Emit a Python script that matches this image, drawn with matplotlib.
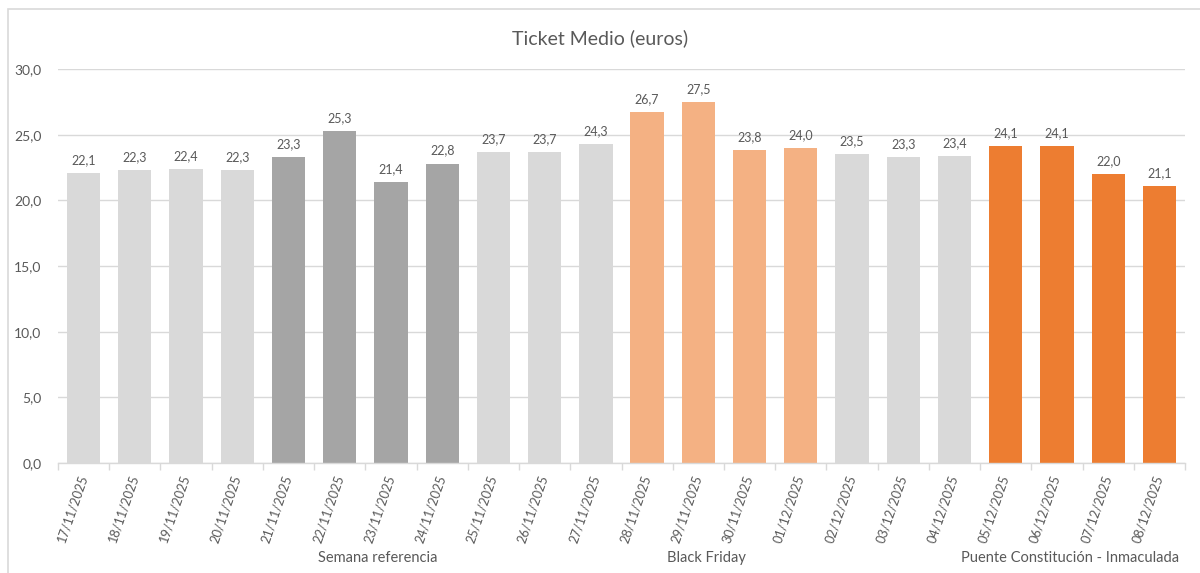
import matplotlib
matplotlib.use('Agg')
import matplotlib.pyplot as plt
import matplotlib.patches as mpatches
from matplotlib.ticker import FuncFormatter

plt.rcParams['font.family'] = ['Lato', 'DejaVu Sans']

dates = ['17/11/2025', '18/11/2025', '19/11/2025', '20/11/2025', '21/11/2025',
         '22/11/2025', '23/11/2025', '24/11/2025', '25/11/2025', '26/11/2025',
         '27/11/2025', '28/11/2025', '29/11/2025', '30/11/2025', '01/12/2025',
         '02/12/2025', '03/12/2025', '04/12/2025', '05/12/2025', '06/12/2025',
         '07/12/2025', '08/12/2025']
ticket = [22.1, 22.3, 22.4, 22.3, 23.3, 25.3, 21.4, 22.8, 23.7, 23.7, 24.3,
          26.7, 27.5, 23.8, 24.0, 23.5, 23.3, 23.4, 24.1, 24.1, 22.0, 21.1]
# grupo de cada día: 0 normal, 1 semana referencia, 2 black friday, 3 puente
grupo = [0, 0, 0, 0, 1, 1, 1, 1, 0, 0, 0, 2, 2, 2, 2, 0, 0, 0, 3, 3, 3, 3]
grupo_labels = ['Semana referencia', 'Black Friday', 'Puente Constitución - Inmaculada']

colores = {0: '#D9D9D9', 1: '#A5A5A5', 2: '#F4B183', 3: '#ED7D31'}
txt = '#595959'
grid = '#D9D9D9'

fig = plt.figure(figsize=(12, 5.73), dpi=100)
fig.patches.append(mpatches.Rectangle((8 / 1200, -0.05), 1.2, 1.05 - 9.5 / 573,
                                      transform=fig.transFigure, fill=False,
                                      edgecolor=grid, linewidth=1.2))
ax = fig.add_axes([58 / 1200, 1 - 463 / 573, (1185 - 58) / 1200, 394 / 573])

x = list(range(len(dates)))
bars = ax.bar(x, ticket, width=0.65, color=[colores[g] for g in grupo], zorder=2)
for b, v in zip(bars, ticket):
    ax.annotate(f'{v:.1f}'.replace('.', ','), (b.get_x() + b.get_width() / 2, v),
                xytext=(0, 5), textcoords='offset points', ha='center', va='bottom',
                fontsize=9, color=txt)

ax.set_xlim(-0.5, len(dates) - 0.5)
ax.set_ylim(0, 30)
ax.set_yticks([0, 5, 10, 15, 20, 25, 30])
ax.yaxis.set_major_formatter(FuncFormatter(lambda v, p: f'{v:.1f}'.replace('.', ',')))
ax.grid(axis='y', color=grid, linewidth=1, zorder=0)
ax.tick_params(axis='y', length=0, labelsize=10, labelcolor=txt, pad=12)

ax.set_xticks(x)
ax.set_xticklabels(dates, rotation=71, ha='right', va='center', rotation_mode='anchor',
                   fontsize=9.2, color=txt)
ax.tick_params(axis='x', which='major', length=0, pad=9)
ax.set_xticks([i - 0.5 for i in range(len(dates) + 1)], minor=True)
ax.tick_params(axis='x', which='minor', length=5, color=grid, width=1)

for s in ['top', 'right', 'left']:
    ax.spines[s].set_visible(False)
ax.spines['bottom'].set_color(grid)
ax.spines['bottom'].set_linewidth(1)

# etiquetas de grupo bajo el eje
trans = ax.get_xaxis_transform()
for lbl, xpos in zip(grupo_labels, [5.74, 12.15, 19.25]):
    ax.text(xpos, -0.241, lbl, transform=trans, ha='center', va='center',
            fontsize=10.5, color=txt)

fig.text(0.5, 1 - 38 / 573, 'Ticket Medio (euros)', ha='center', va='center',
         fontsize=14, color=txt)

fig.savefig('out.png', dpi=100, facecolor='white')
